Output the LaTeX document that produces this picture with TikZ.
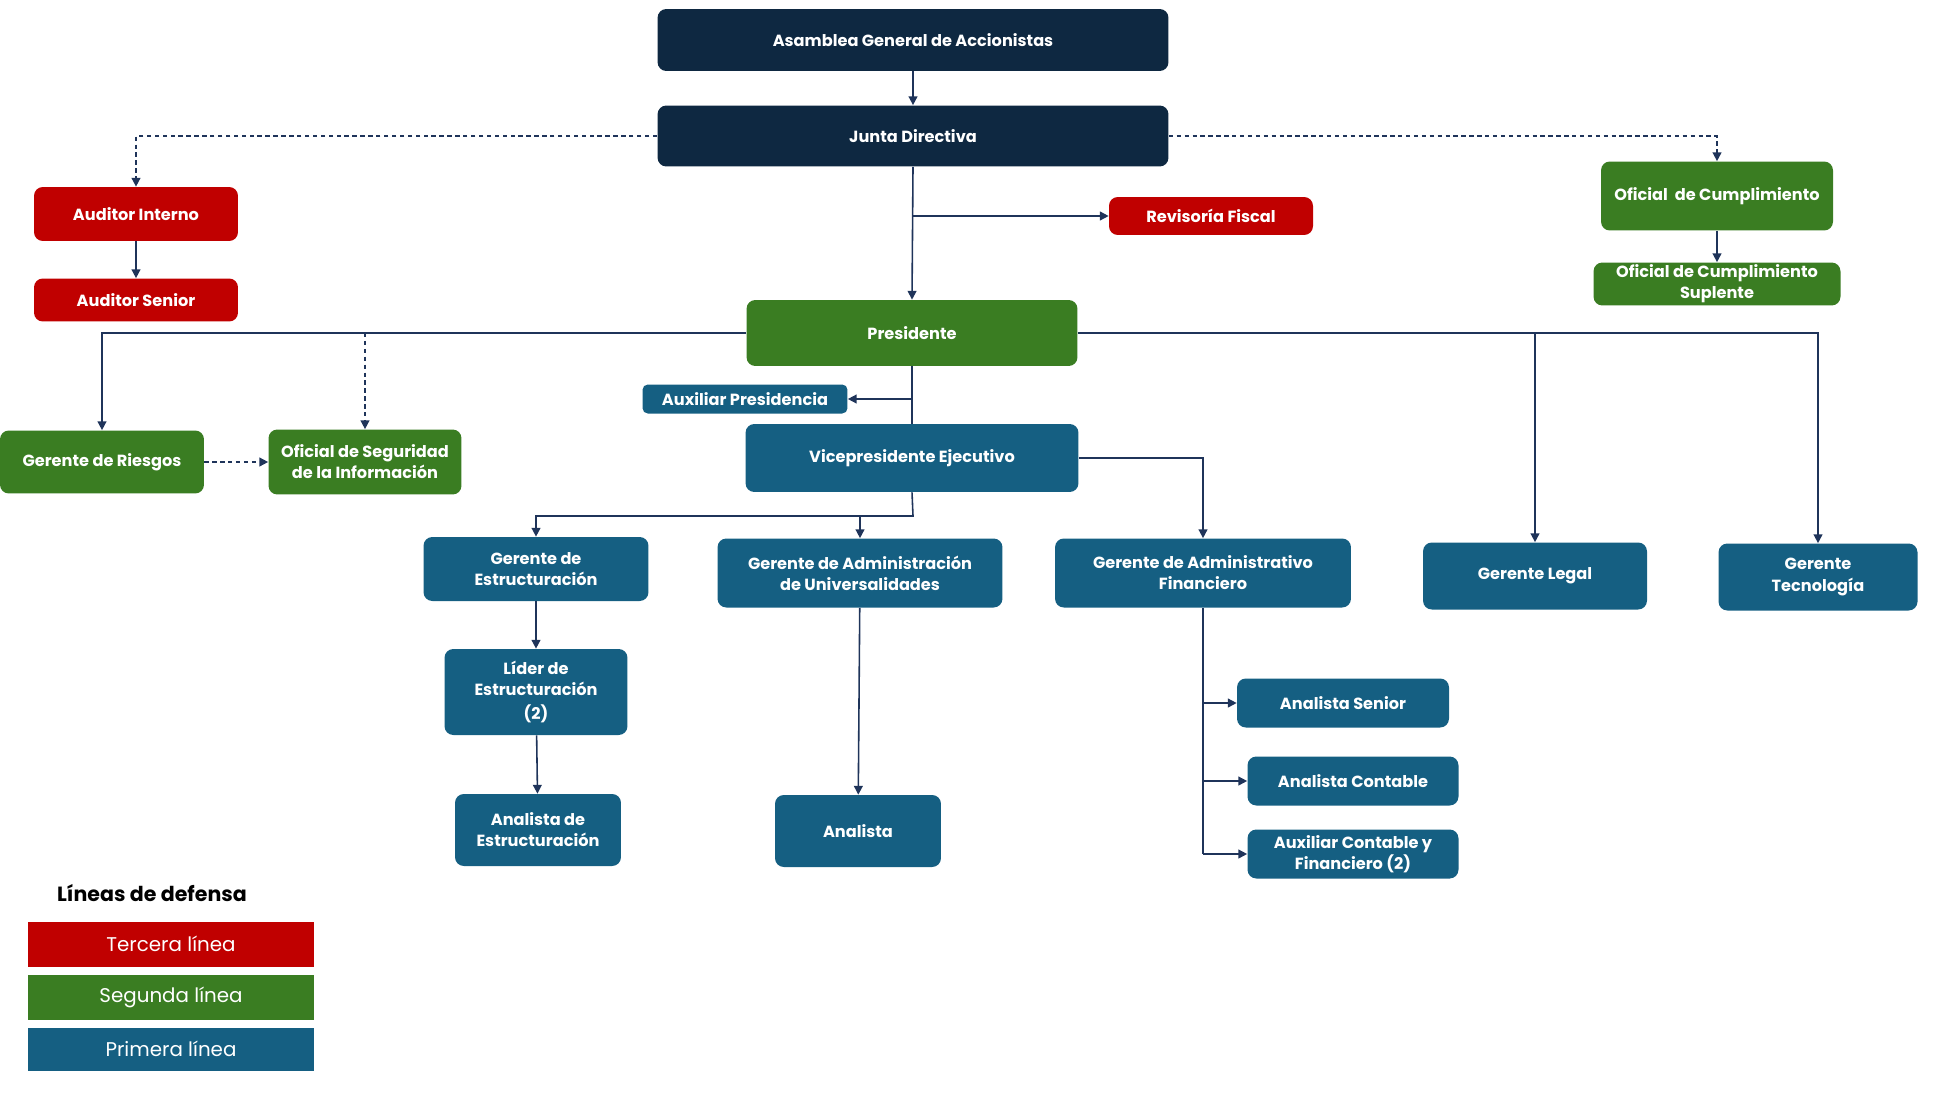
\documentclass[tikz,border=0pt]{standalone}
\usepackage{fontspec}
\setmainfont{Poppins}
\usepackage{tikz}
\usetikzlibrary{arrows.meta,positioning}
\definecolor{boardnavy}{RGB}{14,40,65}
\definecolor{thirdred}{RGB}{192,0,0}
\definecolor{secondgreen}{RGB}{58,125,34}
\definecolor{firstblue}{RGB}{21,95,130}
\definecolor{linknavy}{RGB}{31,52,90}

\begin{document}
\begin{tikzpicture}[x=0.02cm,y=-0.02cm,
    box/.style={rounded corners=5pt,text=white,align=center,inner sep=1pt,
      font=\bfseries\fontsize{9.2}{12}\selectfont},
    navybox/.style={box,fill=boardnavy},
    redbox/.style={box,fill=thirdred},
    greenbox/.style={box,fill=secondgreen},
    bluebox/.style={box,fill=firstblue},
    legbox/.style={text=white,inner sep=0pt,minimum width=5.74cm,minimum height=0.9cm,
      font=\fontsize{11.3}{13}\selectfont},
    link/.style={linknavy,line width=0.9pt,-{Triangle[length=5pt,width=5pt]}},
    plain/.style={linknavy,line width=0.9pt},
    dotlink/.style={link,dash pattern=on 2.5pt off 2pt}]
  \useasboundingbox (0,0) rectangle (1946,1095);

  \node[navybox,minimum width=10.22cm,minimum height=1.24cm] (asamblea) at (913,40) {Asamblea General de Accionistas};
  \node[navybox,minimum width=10.22cm,minimum height=1.22cm] (junta) at (913,136) {Junta Directiva};
  \node[redbox,minimum width=4.08cm,minimum height=1.08cm] (auditorint) at (136,214) {Auditor Interno};
  \node[redbox,minimum width=4.08cm,minimum height=0.86cm] (auditorsen) at (136,300) {Auditor Senior};
  \node[redbox,minimum width=4.08cm,minimum height=0.76cm] (revisoria) at (1211,216) {Revisoría Fiscal};
  \node[greenbox,minimum width=4.64cm,minimum height=1.38cm] (oficialcum) at (1717,196) {Oficial\ \ de Cumplimiento};
  \node[greenbox,minimum width=4.94cm,minimum height=0.86cm] (oficialsup) at (1717,284) {Oficial de Cumplimiento\\Suplente};
  \node[greenbox,minimum width=6.62cm,minimum height=1.32cm] (presidente) at (912,333) {Presidente};
  \node[greenbox,minimum width=4.08cm,minimum height=1.26cm] (riesgos) at (102,462) {Gerente de Riesgos};
  \node[greenbox,minimum width=3.86cm,minimum height=1.30cm] (seguridad) at (365,462) {Oficial de Seguridad\\de la Información};
  \node[bluebox,rounded corners=3pt,minimum width=4.10cm,minimum height=0.58cm] (auxpres) at (745,399) {Auxiliar Presidencia};
  \node[bluebox,minimum width=6.66cm,minimum height=1.36cm] (vicepres) at (912,458) {Vicepresidente Ejecutivo};
  \node[bluebox,minimum width=4.50cm,minimum height=1.28cm] (gestruct) at (536,569) {Gerente de\\Estructuración};
  \node[bluebox,minimum width=5.70cm,minimum height=1.38cm] (guniv) at (860,573) {Gerente de Administración\\de Universalidades};
  \node[bluebox,minimum width=5.92cm,minimum height=1.38cm] (gadmfin) at (1203,573) {Gerente de Administrativo\\Financiero};
  \node[bluebox,minimum width=4.48cm,minimum height=1.34cm] (glegal) at (1535,576) {Gerente Legal};
  \node[bluebox,minimum width=3.98cm,minimum height=1.34cm] (gtec) at (1818,577) {Gerente\\Tecnología};
  \node[bluebox,minimum width=3.66cm,minimum height=1.72cm] (lider) at (536,692) {Líder de\\Estructuración\\[2pt](2)};
  \node[bluebox,minimum width=3.32cm,minimum height=1.44cm] (analestr) at (538,830) {Analista de\\Estructuración};
  \node[bluebox,minimum width=3.32cm,minimum height=1.44cm] (analista) at (858,831) {Analista};
  \node[bluebox,minimum width=4.24cm,minimum height=0.98cm] (analsen) at (1343,703) {Analista Senior};
  \node[bluebox,minimum width=4.22cm,minimum height=0.98cm] (analcont) at (1353,781) {Analista Contable};
  \node[bluebox,minimum width=4.22cm,minimum height=0.98cm] (auxcont) at (1353,854) {Auxiliar Contable y\\Financiero (2)};

  \node[font=\bfseries\fontsize{11.7}{13}\selectfont] (legtitle) at (152,893) {Líneas de defensa};
  \node[legbox,fill=thirdred] (tercera) at (171,944) {Tercera línea};
  \node[legbox,fill=secondgreen] (segunda) at (171,997) {Segunda línea};
  \node[legbox,fill=firstblue,minimum height=0.86cm] (primera) at (171,1049) {Primera línea};

  \coordinate (vpbus) at (913,516);

  \draw[link] (asamblea) -- (junta);
  \draw[dotlink] (junta.west) -| (auditorint.north);
  \draw[dotlink] (junta.east) -| (oficialcum.north);
  \draw[link] (auditorint) -- (auditorsen);
  \draw[link] (oficialcum) -- (oficialsup);
  \draw[link] (junta.south) -- (presidente.north);
  \draw[link] (junta.south |- revisoria.west) -- (revisoria.west);
  \draw[link] (presidente.west) -| (riesgos.north);
  \draw[dotlink] (seguridad.north |- presidente.west) -- (seguridad.north);
  \draw[dotlink] (riesgos.east) -- (seguridad.west);
  \draw[link] (presidente.east) -| (glegal.north);
  \draw[link] (presidente.east) -| (gtec.north);
  \draw[plain] (presidente.south) -- (vicepres.north);
  \draw[link] (presidente.south |- auxpres.east) -- (auxpres.east);
  \draw[link] (vicepres.east) -| (gadmfin.north);
  \draw[link] (vicepres.south) -- (vpbus) -| (gestruct.north);
  \draw[link] (vpbus -| guniv.north) -- (guniv.north);
  \draw[link] (gestruct) -- (lider);
  \draw[link] (lider) -- (analestr);
  \draw[link] (guniv) -- (analista);
  \draw[plain] (gadmfin.south) -- (gadmfin.south |- auxcont.west);
  \draw[link] (gadmfin.south |- analsen.west) -- (analsen.west);
  \draw[link] (gadmfin.south |- analcont.west) -- (analcont.west);
  \draw[link] (gadmfin.south |- auxcont.west) -- (auxcont.west);
\end{tikzpicture}
\end{document}
